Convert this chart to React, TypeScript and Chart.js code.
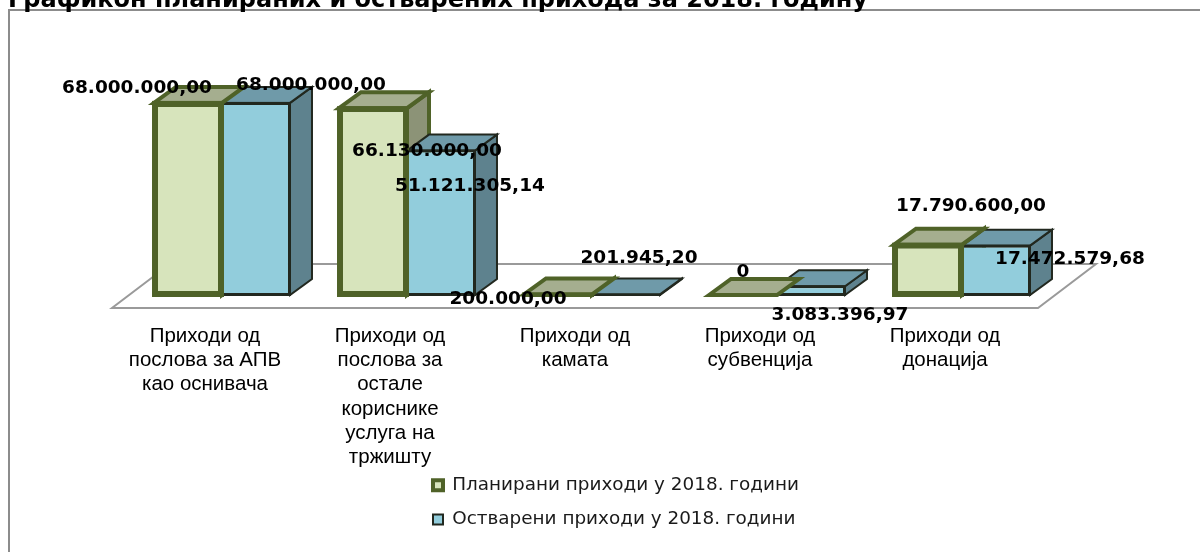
import React, { useEffect, useRef } from "react";
import { Chart, registerables } from "chart.js";

Chart.register(...registerables);

const titleText = "Графикон планираних и остварених прихода за 2018. годину";
const categories = [
  ["Приходи од", "послова за АПВ", "као оснивача"],
  ["Приходи од", "послова за", "остале", "кориснике", "услуга на", "тржишту"],
  ["Приходи од", "камата"],
  ["Приходи од", "субвенција"],
  ["Приходи од", "донација"],
];

const plannedLabel = "Планирани приходи у 2018. години";
const actualLabel = "Остварени приходи у 2018. години";
const planned = [68000000, 66130000, 200000, 0, 17790600];
const actual = [68000000, 51121305.14, 201945.2, 3083396.97, 17472579.68];
const plannedText = ["68.000.000,00", "66.130.000,00", "200.000,00", "0", "17.790.600,00"];
const actualText = ["68.000.000,00", "51.121.305,14", "201.945,20", "3.083.396,97", "17.472.579,68"];

// Where each value label sits relative to the top of its bar [dx, dy]
const plannedLabelOffset = [[-51, -15], [54, 43], [-50, 5], [0, -23], [43, -39]];
const actualLabelOffset = [[55, -18], [29, 36], [13, -36], [29, 29], [74, 14]];

const DEPTH_X = 22;
const DEPTH_Y = 16;
const faces = [
  { top: "#a5ae8f", side: "#8c9377", edge: "#4f6228", width: 4 },
  { top: "#6f9aa9", side: "#5e828e", edge: "#22281f", width: 2 },
];
const valueTexts = [plannedText, actualText];
const valueOffsets = [plannedLabelOffset, actualLabelOffset];

const poly = (ctx: any, pts: number[][], fill: string, stroke: string, lw: number) => {
  ctx.beginPath();
  pts.forEach((p, i) => (i ? ctx.lineTo(p[0], p[1]) : ctx.moveTo(p[0], p[1])));
  ctx.closePath();
  ctx.fillStyle = fill;
  ctx.fill();
  ctx.lineWidth = lw;
  ctx.strokeStyle = stroke;
  ctx.lineJoin = "miter";
  ctx.stroke();
};

const box = (el: any) => ({
  l: el.x - el.width / 2,
  r: el.x + el.width / 2,
  t: el.y,
  b: el.base,
});

const drawSides = (chart: any, d: number) => {
  const f = faces[d];
  chart.getDatasetMeta(d).data.forEach((el: any) => {
    const { r, t, b } = box(el);
    poly(chart.ctx, [[r, t], [r + DEPTH_X, t - DEPTH_Y], [r + DEPTH_X, b - DEPTH_Y], [r, b]], f.side, f.edge, f.width);
  });
};

const drawTops = (chart: any, d: number) => {
  const f = faces[d];
  chart.getDatasetMeta(d).data.forEach((el: any) => {
    const { l, r, t } = box(el);
    poly(chart.ctx, [[l, t], [l + DEPTH_X, t - DEPTH_Y], [r + DEPTH_X, t - DEPTH_Y], [r, t]], f.top, f.edge, f.width);
  });
};

const drawFront = (chart: any, d: number) => {
  const f = faces[d];
  const { ctx } = chart;
  chart.getDatasetMeta(d).controller.draw();
  ctx.lineWidth = f.width;
  ctx.strokeStyle = f.edge;
  ctx.lineJoin = "miter";
  chart.getDatasetMeta(d).data.forEach((el: any) => {
    const { l, r, t, b } = box(el);
    ctx.strokeRect(l, t, r - l, b - t);
  });
};

const threeD = {
  id: "threeD",
  beforeDraw(chart: any) {
    const { ctx } = chart;
    ctx.save();
    ctx.strokeStyle = "#8c8c8c";
    ctx.lineWidth = 2;
    ctx.strokeRect(9, 10, 1300, 700);
    ctx.fillStyle = "#000";
    ctx.font = "bold 24px 'DejaVu Sans'";
    ctx.textAlign = "left";
    ctx.textBaseline = "alphabetic";
    ctx.fillText(titleText, 8, 7);
    ctx.restore();
  },
  beforeDatasetsDraw(chart: any) {
    const { ctx, chartArea, scales } = chart;
    const y0 = scales.y.getPixelForValue(0);
    const fl = chartArea.left - 17.5;
    const fr = chartArea.right - 16.5;
    const fy = y0 + 13;
    const by = y0 - 31;
    const sx = 58;
    ctx.save();
    ctx.strokeStyle = "#9a9a9a";
    ctx.lineWidth = 2;
    ctx.beginPath();
    ctx.moveTo(fl + sx, by);
    ctx.lineTo(fl, fy);
    ctx.lineTo(fr, fy);
    ctx.lineTo(fr + sx, by);
    ctx.lineTo(fl + sx, by);
    ctx.stroke();
    // paint order: back to front, left bar's front last, as in a 3-D column chart
    drawSides(chart, 0);
    drawSides(chart, 1);
    drawTops(chart, 1);
    drawFront(chart, 1);
    drawTops(chart, 0);
    drawFront(chart, 0);
    ctx.restore();
  },
  beforeDatasetDraw() {
    return false; // bars are already painted above, in the needed order
  },
  afterDatasetsDraw(chart: any) {
    const { ctx } = chart;
    ctx.save();
    ctx.fillStyle = "#000";
    ctx.font = "bold 18.5px 'DejaVu Sans'";
    ctx.textAlign = "center";
    ctx.textBaseline = "middle";
    [0, 1].forEach((d) => {
      chart.getDatasetMeta(d).data.forEach((el: any, i: number) => {
        const [dx, dy] = valueOffsets[d][i];
        ctx.fillText(valueTexts[d][i], el.x + dx, el.y + dy);
      });
    });
    ctx.restore();
  },
  afterLayout(chart: any) {
    const lg = chart.legend;
    if (!lg) return;
    lg.left = 417;
    lg.right = lg.left + lg.width;
    lg.top = 460;
    lg.bottom = lg.top + lg.height;
  },
};

export default function App() {
  const ref = useRef<HTMLCanvasElement>(null);
  useEffect(() => {
    const chart = new Chart(ref.current as HTMLCanvasElement, {
      type: "bar",
      data: {
        labels: categories,
        datasets: [
          {
            label: plannedLabel,
            data: planned,
            backgroundColor: "#d7e4bc",
            borderColor: "#4f6228",
            borderWidth: 4,
            borderSkipped: false,
          },
          {
            label: actualLabel,
            data: actual,
            backgroundColor: "#92cddc",
            borderColor: "#22281f",
            borderWidth: 2,
            borderSkipped: false,
          },
        ],
      } as any,
      options: {
        animation: false,
        responsive: false,
        layout: { padding: { left: 129.5, right: 145.5, top: 69, bottom: 0 } },
        datasets: { bar: { barPercentage: 1, categoryPercentage: 0.735 } },
        plugins: {
          title: { display: false },
          tooltip: { enabled: false },
          legend: {
            position: "chartArea",
            align: "start",
            labels: {
              boxWidth: 10,
              boxHeight: 10,
              padding: 16,
              color: "#1a1a1a",
              font: { family: "'DejaVu Sans'", size: 18.4 },
            },
          },
        },
        scales: {
          x: {
            grid: { display: false, drawTicks: false },
            border: { display: false },
            afterFit: (s: any) => { s.height = 257; },
            ticks: {
              autoSkip: false,
              maxRotation: 0,
              minRotation: 0,
              padding: 29,
              labelOffset: -17,
              color: "#000",
              font: { family: "'Liberation Sans'", size: 20.5, lineHeight: 1.185 },
            },
          },
          y: {
            min: 0,
            max: 80000000,
            grid: { display: false, drawTicks: false },
            border: { display: false },
            afterFit: (s: any) => { s.width = 0; },
            ticks: { display: false },
          },
        },
      } as any,
      plugins: [threeD],
    });
    return () => chart.destroy();
  }, []);
  return (
    <canvas
      ref={ref}
      width={1200}
      height={552}
      style={{ position: "fixed", left: 0, top: 0, width: 1200, height: 552, display: "block" }}
    />
  );
}
